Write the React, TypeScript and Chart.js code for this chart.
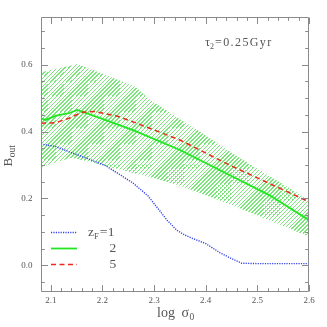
import React, { useEffect, useRef } from "react";
import { Chart, registerables } from "chart.js";

Chart.register(...registerables);

// ---- data ----
const xMin = 2.081;
const xMax = 2.6;
const yMin = -0.08;
const yMax = 0.743;

const xMajorTicks = [2.1, 2.2, 2.3, 2.4, 2.5, 2.6];
const yMajorTicks = [0.0, 0.2, 0.4, 0.6];

const bandX = [2.081, 2.11, 2.14, 2.151, 2.2, 2.263, 2.292, 2.35, 2.379, 2.45, 2.52, 2.6];
const bandUpper = [0.578, 0.588, 0.598, 0.602, 0.573, 0.535, 0.495, 0.437, 0.41, 0.337, 0.27, 0.195];
const bandLower = [0.293, 0.308, 0.322, 0.318, 0.3, 0.275, 0.264, 0.238, 0.222, 0.18, 0.137, 0.085];

const zf2X = [2.081, 2.09, 2.11, 2.135, 2.151, 2.2, 2.263, 2.35, 2.446, 2.523, 2.6];
const zf2Y = [0.44, 0.435, 0.448, 0.455, 0.465, 0.438, 0.402, 0.345, 0.27, 0.21, 0.135];

const zf5X = [2.081, 2.11, 2.135, 2.161, 2.187, 2.231, 2.263, 2.35, 2.446, 2.523, 2.6];
const zf5Y = [0.425, 0.427, 0.44, 0.458, 0.46, 0.445, 0.427, 0.375, 0.3, 0.245, 0.19];

const zf1X = [2.081, 2.11, 2.14, 2.17, 2.206, 2.23, 2.26, 2.288, 2.31, 2.325, 2.344, 2.36, 2.375, 2.4, 2.427, 2.45, 2.47, 2.5, 2.6];
const zf1Y = [0.363, 0.355, 0.337, 0.32, 0.298, 0.275, 0.245, 0.208, 0.165, 0.135, 0.105, 0.09, 0.08, 0.065, 0.038, 0.02, 0.006, 0.005, 0.005];

const legendLabels = ["1", "2", "5"];
const annotationValue = "0.25Gyr";

const GREEN = "#22e622";
const RED = "#ea2a1c";
const BLUE = "#3242ea";
const HATCH = "rgba(120,230,120,1)";
const CLEAR = "rgba(120,230,120,0)";
const AXIS = "#8a8a8a";
const TEXT = "#555555";
const SERIF = '"Liberation Serif", "Times New Roman", serif';

const pts = (xs: number[], ys: number[]) => xs.map((x, i) => ({ x, y: ys[i] }));

// diagonal "/" hatch built as a striped linear gradient
function makeHatch(main: CanvasRenderingContext2D | null, size: number): CanvasGradient | string {
  if (!main) return HATCH;
  const period = 4;
  const lineW = 1.2;
  const span = 2 * size;
  const g = main.createLinearGradient(0, 0, size, size);
  for (let k = 0; k * period < span; k++) {
    const a = (k * period) / span;
    const b = Math.min(1, (k * period + lineW) / span);
    g.addColorStop(a, CLEAR);
    g.addColorStop(a, HATCH);
    g.addColorStop(b, HATCH);
    g.addColorStop(b, CLEAR);
  }
  return g;
}

function drawLabel(ctx: CanvasRenderingContext2D, s: string, x: number, y: number, size: number, spacing = 0) {
  ctx.font = `${size}px ${SERIF}`;
  (ctx as any).letterSpacing = `${spacing}px`;
  ctx.fillText(s, x, y);
  const w = ctx.measureText(s).width;
  (ctx as any).letterSpacing = "0px";
  return w;
}

const overlay = {
  id: "overlay",
  afterDraw(chart: any) {
    const { ctx, chartArea: a, scales } = chart;
    const sx = scales.x;
    const sy = scales.y;
    ctx.save();
    const L = Math.round(a.left) + 0.5;
    const R = Math.round(a.right) - 0.5;
    const T = Math.round(a.top) + 0.5;
    const B = Math.round(a.bottom) - 0.5;
    ctx.strokeStyle = AXIS;
    ctx.lineWidth = 1;
    ctx.setLineDash([]);
    ctx.beginPath();
    ctx.rect(L, T, R - L, B - T);
    ctx.stroke();
    ctx.beginPath();
    const xt = (v: number, len: number) => {
      const p = Math.round(sx.getPixelForValue(v)) + 0.5;
      ctx.moveTo(p, B);
      ctx.lineTo(p, B - len);
      ctx.moveTo(p, T);
      ctx.lineTo(p, T + len);
    };
    const yt = (v: number, len: number) => {
      const p = Math.round(sy.getPixelForValue(v)) + 0.5;
      ctx.moveTo(L, p);
      ctx.lineTo(L + len, p);
      ctx.moveTo(R, p);
      ctx.lineTo(R - len, p);
    };
    for (let k = 0; k <= 25; k++) xt(2.1 + k * 0.02, k % 5 === 0 ? 6.5 : 3.3);
    for (let k = -1; k <= 14; k++) yt(k * 0.05, k % 4 === 0 ? 6.5 : 3.3);
    ctx.stroke();

    ctx.fillStyle = TEXT;
    ctx.textBaseline = "alphabetic";
    ctx.textAlign = "left";

    // x title: log sigma_0
    let x = 157;
    x += drawLabel(ctx, "log", x, 316.5, 14);
    x += 6.5;
    x += drawLabel(ctx, "σ", x, 316.5, 14);
    drawLabel(ctx, "0", x + 0.5, 319.5, 9.5);

    // y title: B_out (rotated)
    ctx.save();
    ctx.translate(11.7, 166.5);
    ctx.rotate(-Math.PI / 2);
    const wb = drawLabel(ctx, "B", 0, 0, 13);
    drawLabel(ctx, "out", wb + 0.5, 3, 9.5);
    ctx.restore();

    // annotation tau_2 = 0.25Gyr
    let ax = 205;
    ax += drawLabel(ctx, "τ", ax, 45.7, 12.5);
    ax += drawLabel(ctx, "2", ax, 48.5, 8);
    drawLabel(ctx, "=" + annotationValue, ax + 1, 45.7, 12, 1.4);

    // legend
    const rows = [
      { y: 232.5, color: BLUE, dash: [1.2, 1.2], w: 1.4 },
      { y: 248.5, color: GREEN, dash: [], w: 1.8 },
      { y: 264.5, color: RED, dash: [5, 3.5], w: 1.5 },
    ];
    rows.forEach((r, i) => {
      ctx.save();
      ctx.strokeStyle = r.color;
      ctx.lineWidth = r.w;
      ctx.setLineDash(r.dash);
      ctx.beginPath();
      ctx.moveTo(51, r.y);
      ctx.lineTo(77, r.y);
      ctx.stroke();
      ctx.restore();
      ctx.fillStyle = TEXT;
      const by = r.y + 3.8;
      if (i === 0) {
        let lx = 88;
        lx += drawLabel(ctx, "z", lx, by, 13.5);
        lx += drawLabel(ctx, "F", lx, by + 2.5, 8.5);
        lx += 1;
        lx += drawLabel(ctx, "=", lx, by, 13.5);
        drawLabel(ctx, legendLabels[i], lx + 0.5, by, 13.5);
      } else {
        drawLabel(ctx, legendLabels[i], 109.5, by, 13.5);
      }
    });
    ctx.restore();
  },
};

export default function App() {
  const ref = useRef<HTMLCanvasElement>(null);
  useEffect(() => {
    const canvas = ref.current;
    if (!canvas) return;
    const hatch = makeHatch(canvas.getContext("2d"), 327);
    const lineDs = (data: any, color: string, width: number, dash: number[]) => ({
      data,
      borderColor: color,
      borderWidth: width,
      borderDash: dash,
      pointRadius: 0,
      fill: false,
      tension: 0,
    });
    const chart = new Chart(canvas, {
      type: "line",
      data: {
        datasets: [
          lineDs(pts(zf1X, zf1Y), BLUE, 1.4, [1.2, 1.2]),
          lineDs(pts(zf5X, zf5Y), RED, 1.5, [5, 3.5]),
          lineDs(pts(zf2X, zf2Y), GREEN, 1.8, []),
          {
            data: pts(bandX, bandLower),
            borderWidth: 0,
            borderColor: "rgba(0,0,0,0)",
            backgroundColor: "rgba(0,0,0,0)",
            pointRadius: 0,
            fill: false,
          },
          {
            data: pts(bandX, bandUpper),
            borderWidth: 0,
            borderColor: "rgba(0,0,0,0)",
            backgroundColor: hatch as any,
            pointRadius: 0,
            fill: { target: 3, above: hatch, below: hatch },
          },
        ] as any,
      },
      options: {
        animation: false,
        responsive: false,
        devicePixelRatio: 1,
        layout: { padding: { left: 0, top: 17, right: 18, bottom: 0 } },
        plugins: { legend: { display: false }, tooltip: { enabled: false } },
        scales: {
          x: {
            type: "linear",
            min: xMin,
            max: xMax,
            grid: { display: false, drawTicks: false },
            border: { display: false },
            afterBuildTicks: (s: any) => {
              s.ticks = xMajorTicks.map((v) => ({ value: v }));
            },
            afterFit: (s: any) => {
              s.height = 35;
            },
            ticks: {
              padding: 3,
              maxRotation: 0,
              color: TEXT,
              font: { family: SERIF, size: 9 },
              callback: (v: any) => Number(v).toFixed(1),
            },
          },
          y: {
            type: "linear",
            min: yMin,
            max: yMax,
            grid: { display: false, drawTicks: false },
            border: { display: false },
            afterBuildTicks: (s: any) => {
              s.ticks = yMajorTicks.map((v) => ({ value: v }));
            },
            afterFit: (s: any) => {
              s.width = 41;
            },
            ticks: {
              padding: 8.5,
              color: TEXT,
              font: { family: SERIF, size: 9 },
              callback: (v: any) => Number(v).toFixed(1),
            },
          },
        },
      } as any,
      plugins: [overlay],
    });
    return () => chart.destroy();
  }, []);
  return (
    <div style={{ position: "fixed", left: 0, top: 0, width: 327, height: 327, background: "#fff" }}>
      <canvas ref={ref} width={327} height={327} style={{ display: "block", width: 327, height: 327 }} />
    </div>
  );
}
